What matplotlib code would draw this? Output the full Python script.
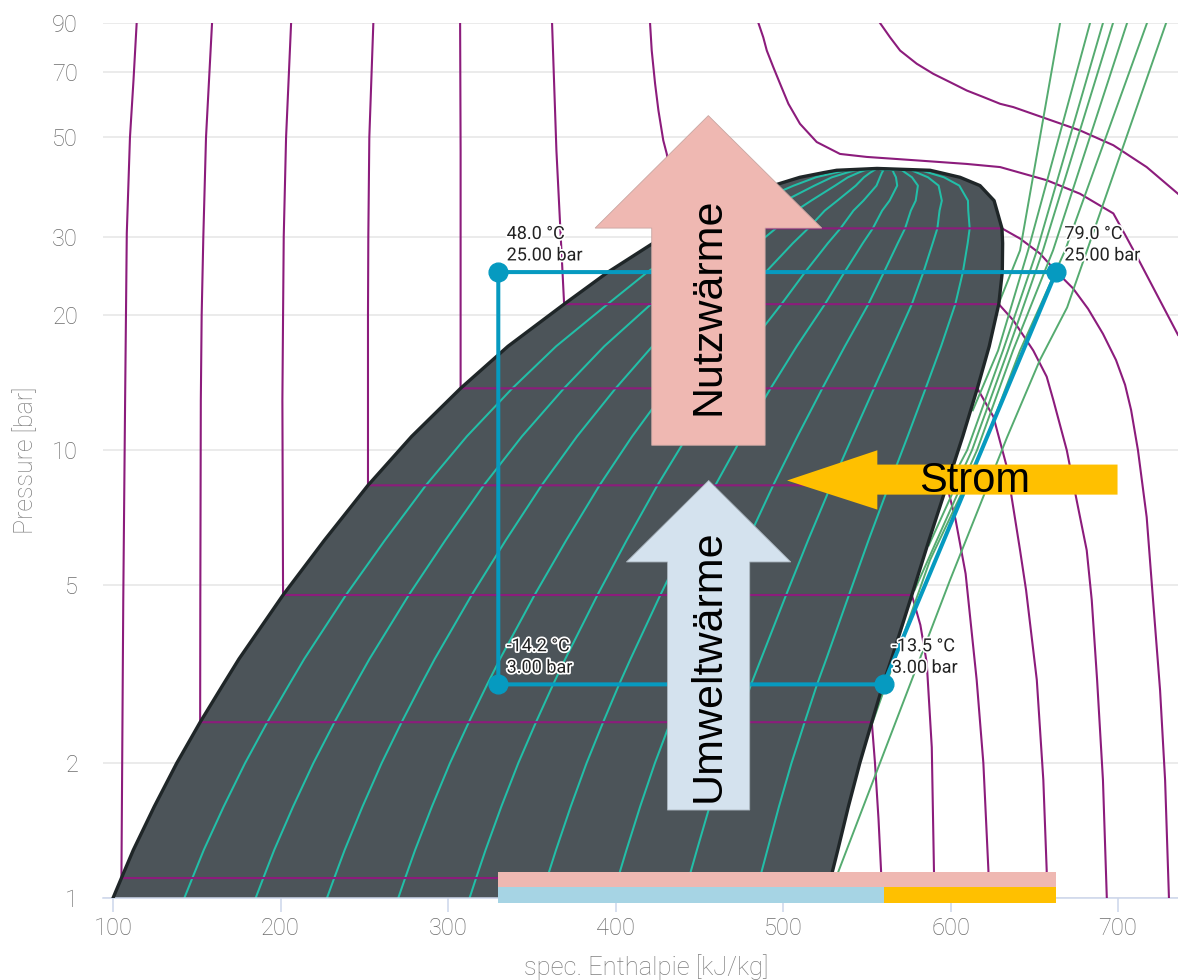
import matplotlib
matplotlib.use("Agg")
import matplotlib.pyplot as plt
import matplotlib.patheffects as pe
from matplotlib.patches import Polygon
from matplotlib.ticker import NullLocator
import numpy as np

plt.rcParams['font.family'] = ['Roboto', 'DejaVu Sans']

# saturation curve (p in bar, h in kJ/kg)
sat_p  = [1.0, 1.108, 1.28, 1.6, 2.0, 2.47, 3.0, 3.42, 4.75, 6.29, 8.35, 10.74, 13.75, 17.07, 21.2,
          25.0, 29.0, 31.3, 34.3, 36.1, 39.0, 40.7, 41.7, 42.2, 42.6]
sat_hl = [100.0, 105.0, 112.1, 124.6, 138.0, 152.0, 165.8, 175.2, 201.5, 226.1, 252.2, 278.3, 307.5, 335.8, 369.3,
          395.5, 422.4, 437.9, 456.4, 470.0, 494.0, 510.0, 524.3, 532.0, 556.1]
sat_hv = [525.7, 528.5, 532.7, 539.0, 545.8, 553.0, 559.7, 564.8, 576.9, 587.1, 597.8, 607.3, 616.0, 623.1, 628.8,
          630.9, 631.1, 630.7, 627.7, 626.0, 617.6, 605.7, 593.8, 587.8, 556.1]
qualities = [0.1, 0.2, 0.3, 0.4, 0.5, 0.6, 0.7, 0.8, 0.9]

# isotherms -40 ... 120 °C
iso_m40_h = [114.1, 112.2, 110.1, 108.2, 107.2, 106.1, 105.0, 528.5, 530.5]
iso_m40_p = [90, 67.0, 50, 30.5, 12.93, 4.63, 1.108, 1.108, 1.0]
iso_m20_h = [159.1, 155.5, 153.9, 152.9, 152.4, 152.1, 152.0, 553.0, 554.9, 557.0, 558.5, 559.1]
iso_m20_p = [90, 50, 30, 20, 12.93, 4.63, 2.47, 2.47, 2.0, 1.5, 1.155, 1.0]
iso_0_h = [206.3, 203.3, 201.9, 201.5, 201.1, 201.5, 576.9, 582.0, 585.8, 588.8, 590.1, 590.4]
iso_0_p = [90, 50, 30, 20, 12.93, 4.75, 4.75, 4.07, 3.35, 2.17, 1.155, 1.0]
iso_20_h = [255.4, 253.0, 252.4, 252.2, 252.2, 252.2, 597.8, 603.0, 609.0, 615.6, 619.6, 622.6, 623.0]
iso_20_p = [90, 50, 30, 20, 12.93, 8.35, 8.35, 7.0, 5.3, 3.07, 2.0, 1.155, 1.0]
iso_40_h = [307.2, 307.5, 307.5, 616.0, 625.6, 633.6, 641.5, 645.1, 651.5, 655.4, 657.4, 657.6]
iso_40_p = [90, 46.7, 13.75, 13.75, 11.88, 9.18, 5.98, 4.87, 3.07, 1.833, 1.155, 1.0]
iso_60_h = [362.1, 364.7, 369.3, 628.8, 637.5, 649.4, 657.4, 661.4, 669.4, 675.3, 681.3, 684.3,
            687.5, 691.0, 693.3]
iso_60_p = [90, 46.7, 21.2, 21.2, 19.5, 16.7, 14.6, 12.93, 10.0, 7.73, 5.98, 4.63,
            3.07, 1.833, 1.0]
iso_80_h = [420.6, 421.6, 423.6, 425.6, 428.5, 430.6, 433.7, 437.9, 630.7, 641.5, 653.4, 663.4,
            673.1, 682.1, 691.0, 698.8, 704.2, 707.8, 711.9, 717.1, 720.9, 725.1, 728.1, 730.4]
iso_80_p = [90, 78.1, 65.9, 57.4, 49.2, 45.9, 38.1, 31.3, 31.3, 29.7, 27.5, 25.0,
            23.0, 20.7, 18.2, 15.9, 14.0, 12.3, 10.0, 7.09, 4.63, 2.91, 1.833, 1.0]
iso_100_h = [485.3, 488.2, 490.3, 494.2, 498.2, 503.2, 510.1, 520.1, 534.0, 549.9, 579.8, 609.6,
             629.6, 657.4, 677.3, 697.2, 704.2, 711.9, 735.8]
iso_100_p = [90, 83.6, 78.1, 71.7, 65.9, 59.4, 53.6, 48.8, 45.9, 45.2, 44.4, 43.6,
             42.9, 40.1, 37.4, 33.8, 30.3, 26.8, 18.1]
iso_120_h = [557.9, 563.9, 569.9, 579.8, 589.7, 599.7, 609.7, 619.6, 629.6, 637.5, 657.4, 677.3,
             697.2, 717.1, 735.8]
iso_120_p = [90, 83.6, 78.1, 73.0, 69.3, 66.4, 63.6, 61.5, 59.4, 58.4, 55.0, 51.8,
             48.0, 42.9, 37.4]

# isentropes
ise_1_h = [628.4, 641.5, 665.4]
ise_1_p = [21.1, 27.95, 90]
ise_2_h = [613.3, 628.4, 646.3, 683.3]
ise_2_p = [12.28, 16.7, 27.95, 90]
ise_3_h = [596.0, 609.9, 631.3, 651.6, 691.0]
ise_3_p = [7.95, 10.0, 16.7, 27.95, 90]
ise_4_h = [587.0, 612.8, 634.3, 655.2, 697.0]
ise_4_p = [6.13, 10.0, 16.7, 27.95, 90]
ise_5_h = [578.5, 615.8, 637.3, 661.2, 705.4]
ise_5_p = [4.87, 10.0, 16.7, 27.95, 90]
ise_6_h = [553.3, 587.8, 618.8, 641.5, 668.4, 717.3]
ise_6_p = [2.458, 5.69, 10.0, 16.7, 27.95, 90]
ise_7_h = [527.0, 599.7, 633.7, 653.4, 669.6, 681.5, 728.7]
ise_7_p = [1.0, 5.13, 10.68, 15.92, 20.84, 27.95, 90]

# heat pump cycle
cyc_h = [330, 330, 560, 663]
cyc_p = [25, 3, 3, 25]
cyc_labels = ["48.0 °C\n25.00 bar", "-14.2 °C\n3.00 bar", "-13.5 °C\n3.00 bar", "79.0 °C\n25.00 bar"]

yticks = [1, 2, 5, 10, 20, 30, 50, 70, 90]
xticks = [100, 200, 300, 400, 500, 600, 700]

c_purple = '#8c1c7c'
c_teal = '#22bfa8'
c_green = '#55ab70'
c_cycle = '#069ac0'
c_pink = '#efb8b2'
c_lblue = '#a6d4e4'
c_arrow_blue = '#d4e2ee'
c_yellow = '#ffc000'
c_text = '#6c6c6c'

fig = plt.figure(figsize=(11.78, 9.8), dpi=100)
ax = fig.add_axes([103/1178, 82/980, 1075/1178, 875/980])
ax.set_yscale('log')
ax.set_xlim(94.0, 735.8)
ax.set_ylim(1, 90)

ax.set_yticks(yticks)
ax.set_yticklabels([str(t) for t in yticks], fontweight='light')
ax.yaxis.set_minor_locator(NullLocator())
ax.set_xticks(xticks)
ax.set_xticklabels([str(t) for t in xticks], fontweight='light')
for s in ['top', 'right', 'left']:
    ax.spines[s].set_visible(False)
ax.spines['bottom'].set_color('#ccd6eb')
ax.spines['bottom'].set_linewidth(1.1)
ax.tick_params(axis='y', length=0, pad=18, labelsize=17, labelcolor=c_text)
ax.tick_params(axis='x', length=10, width=1.1, color='#ccd6eb', pad=4, labelsize=17, labelcolor=c_text)
ax.yaxis.grid(True, color='#e6e6e6', lw=1.1)
ax.set_axisbelow(True)

hl = np.array(sat_hl)
hv = np.array(sat_hv)
pp = np.array(sat_p)

# two-phase region
ax.fill(np.r_[hl, hv[::-1]], np.r_[pp, pp[::-1]], color='#4c5459', lw=0, zorder=1)
for q in qualities:
    ax.plot(hl + q*(hv - hl), pp, color=c_teal, lw=1.45, zorder=2)

isotherms = [(iso_m40_h, iso_m40_p), (iso_m20_h, iso_m20_p), (iso_0_h, iso_0_p),
             (iso_20_h, iso_20_p), (iso_40_h, iso_40_p), (iso_60_h, iso_60_p),
             (iso_80_h, iso_80_p), (iso_100_h, iso_100_p), (iso_120_h, iso_120_p)]
for h, p in isotherms:
    ax.plot(h, p, color=c_purple, lw=1.5, zorder=3, solid_joinstyle='round')

isentropes = [(ise_1_h, ise_1_p), (ise_2_h, ise_2_p), (ise_3_h, ise_3_p), (ise_4_h, ise_4_p),
              (ise_5_h, ise_5_p), (ise_6_h, ise_6_p), (ise_7_h, ise_7_p)]
for h, p in isentropes:
    ax.plot(h, p, color=c_green, lw=1.4, zorder=3)

ax.plot(np.r_[hl, hv[::-1]], np.r_[pp, pp[::-1]], color='#1f2628', lw=2.4, zorder=4,
        solid_joinstyle='round')

# cycle
ax.plot(cyc_h + cyc_h[:1], cyc_p + cyc_p[:1], color=c_cycle, lw=2.9, zorder=5)
ax.plot(cyc_h, cyc_p, 'o', color=c_cycle, ms=13.5, zorder=6)
for h, p, lab in zip(cyc_h, cyc_p, cyc_labels):
    ax.annotate(lab, (h, p), xytext=(6, 5.5), textcoords='offset points', ha='left', va='bottom',
                fontsize=13, color='#222222', linespacing=1.25, zorder=9,
                path_effects=[pe.withStroke(linewidth=2.5, foreground='white')])

# arrows
nutz = Polygon([(455.4, 55.9), (523.1, 31.35), (489.3, 31.35), (489.3, 10.26),
                (421.6, 10.26), (421.6, 31.35), (387.8, 31.35)],
               closed=True, fc=c_pink, ec='#c9a6a2', lw=0.6, zorder=7)
umwelt = Polygon([(455.6, 8.56), (504.6, 5.63), (480.1, 5.63), (480.1, 1.572),
                  (431.0, 1.572), (431.0, 5.63), (406.5, 5.63)],
                 closed=True, fc=c_arrow_blue, ec='#a9b4bd', lw=0.6, zorder=7)
strom = Polygon([(502.4, 8.56), (556.3, 10.0), (556.3, 9.29), (699.7, 9.29),
                 (699.7, 7.96), (556.3, 7.96), (556.3, 7.37)],
                closed=True, fc=c_yellow, ec='none', zorder=7)
for patch in (nutz, umwelt, strom):
    ax.add_patch(patch)

afont = ['Liberation Sans', 'DejaVu Sans']
ax.text(455.4, 20.96, 'Nutzwärme', rotation=90, ha='center', va='center', fontsize=31,
        family=afont, color='black', zorder=8)
ax.text(455.8, 3.30, 'Umweltwärme', rotation=90, ha='center', va='center', fontsize=31,
        family=afont, color='black', zorder=8)
ax.text(614.6, 8.53, 'Strom', ha='center', va='center', fontsize=30,
        family=afont, color='black', zorder=8)

# energy bars at the bottom
trans = ax.get_xaxis_transform()
h_lo, h_mid, h_hi = min(cyc_h), cyc_h[2], max(cyc_h)
ax.fill_between([h_lo, h_hi], 0.0126, 0.0297, transform=trans, color=c_pink, lw=0,
                zorder=10, clip_on=False)
ax.fill_between([h_lo, h_mid], -0.0057, 0.0126, transform=trans, color=c_lblue, lw=0,
                zorder=10, clip_on=False)
ax.fill_between([h_mid, h_hi], -0.0057, 0.0126, transform=trans, color=c_yellow, lw=0,
                zorder=10, clip_on=False)

fig.text(26/1178, 1 - 460/980, 'Pressure [bar]', rotation=90, ha='center', va='center',
         fontsize=18, fontweight='light', color='#7e7e7e')
fig.text(646/1178, 1 - 967/980, 'spec. Enthalpie [kJ/kg]', ha='center', va='center',
         fontsize=18.4, fontweight='light', color='#7e7e7e')

fig.savefig('out.png', dpi=100)
